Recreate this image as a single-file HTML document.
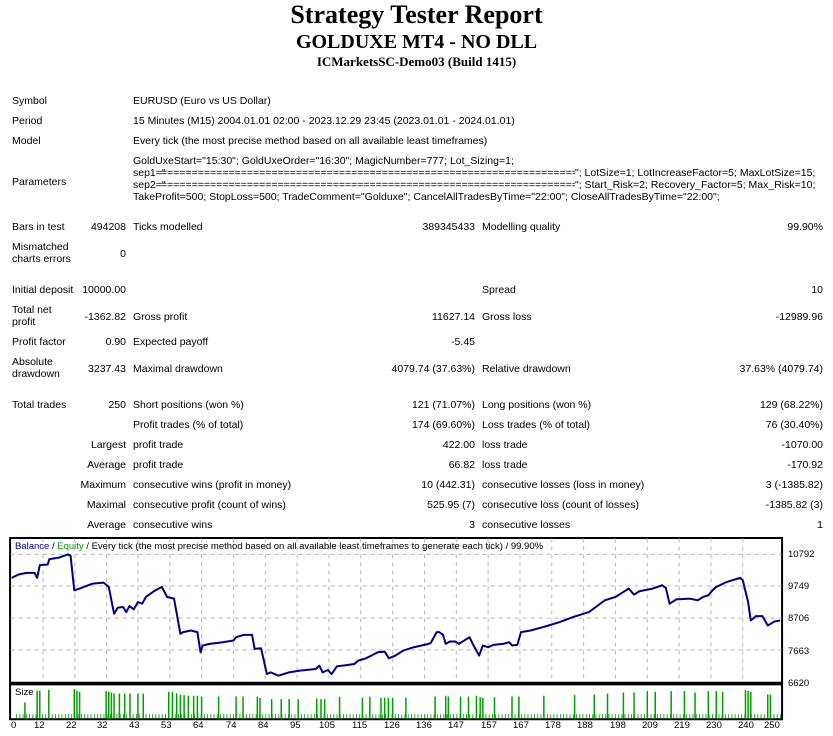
<!DOCTYPE html>
<html><head><meta charset="utf-8"><style>
body{margin:0;background:#fff;width:833px;height:736px;position:relative;overflow:hidden;font-family:"Liberation Sans",sans-serif;font-size:10.5px;color:#000}
.t{position:absolute;white-space:nowrap;line-height:12px}
.h{position:absolute;left:0;width:833px;text-align:center;font-family:"Liberation Serif",serif;font-weight:bold;white-space:nowrap}
.eq{position:absolute;overflow:hidden;white-space:nowrap;line-height:12px}
</style></head><body>
<div class="h" style="top:0px;font-size:26px">Strategy Tester Report</div>
<div class="h" style="top:31px;font-size:20px">GOLDUXE MT4 - NO DLL</div>
<div class="h" style="top:54px;font-size:13px">ICMarketsSC-Demo03 (Build 1415)</div>

<div class="t" style="left:12px;top:95px">Symbol</div>
<div class="t" style="left:133px;top:95px">EURUSD (Euro vs US Dollar)</div>
<div class="t" style="left:12px;top:115px">Period</div>
<div class="t" style="left:133px;top:115px">15 Minutes (M15) 2004.01.01 02:00 - 2023.12.29 23:45 (2023.01.01 - 2024.01.01)</div>
<div class="t" style="left:12px;top:135px">Model</div>
<div class="t" style="left:133px;top:135px">Every tick (the most precise method based on all available least timeframes)</div>
<div class="t" style="left:12px;top:176px">Parameters</div>
<div class="t" style="left:133px;top:155px">GoldUxeStart="15:30"; GoldUxeOrder="16:30"; MagicNumber=777; Lot_Sizing=1;</div>
<div class="t" style="left:133px;top:167px">sep1="</div>
<div class="eq" style="left:161px;top:167px;width:414px">================================================================================</div>
<div class="t" style="left:575px;top:167px">"; LotSize=1; LotIncreaseFactor=5; MaxLotSize=15;</div>
<div class="t" style="left:133px;top:179px">sep2="</div>
<div class="eq" style="left:161px;top:179px;width:414px">================================================================================</div>
<div class="t" style="left:575px;top:179px">"; Start_Risk=2; Recovery_Factor=5; Max_Risk=10;</div>
<div class="t" style="left:133px;top:191px">TakeProfit=500; StopLoss=500; TradeComment="Golduxe"; CancelAllTradesByTime="22:00"; CloseAllTradesByTime="22:00";</div>

<div class="t" style="left:12px;top:221px">Bars in test</div>
<div class="t" style="right:707px;top:221px">494208</div>
<div class="t" style="left:133px;top:221px">Ticks modelled</div>
<div class="t" style="right:358px;top:221px">389345433</div>
<div class="t" style="left:482px;top:221px">Modelling quality</div>
<div class="t" style="right:10px;top:221px">99.90%</div>

<div class="t" style="left:12px;top:241px">Mismatched<br>charts errors</div>
<div class="t" style="right:707px;top:248px">0</div>

<div class="t" style="left:12px;top:284px">Initial deposit</div>
<div class="t" style="right:707px;top:284px">10000.00</div>
<div class="t" style="left:482px;top:284px">Spread</div>
<div class="t" style="right:10px;top:284px">10</div>

<div class="t" style="left:12px;top:304px">Total net<br>profit</div>
<div class="t" style="right:707px;top:311px">-1362.82</div>
<div class="t" style="left:133px;top:311px">Gross profit</div>
<div class="t" style="right:358px;top:311px">11627.14</div>
<div class="t" style="left:482px;top:311px">Gross loss</div>
<div class="t" style="right:10px;top:311px">-12989.96</div>

<div class="t" style="left:12px;top:336px">Profit factor</div>
<div class="t" style="right:707px;top:336px">0.90</div>
<div class="t" style="left:133px;top:336px">Expected payoff</div>
<div class="t" style="right:358px;top:336px">-5.45</div>

<div class="t" style="left:12px;top:356px">Absolute<br>drawdown</div>
<div class="t" style="right:707px;top:363px">3237.43</div>
<div class="t" style="left:133px;top:363px">Maximal drawdown</div>
<div class="t" style="right:358px;top:363px">4079.74 (37.63%)</div>
<div class="t" style="left:482px;top:363px">Relative drawdown</div>
<div class="t" style="right:10px;top:363px">37.63% (4079.74)</div>

<div class="t" style="left:12px;top:399px">Total trades</div>
<div class="t" style="right:707px;top:399px">250</div>
<div class="t" style="left:133px;top:399px">Short positions (won %)</div>
<div class="t" style="right:358px;top:399px">121 (71.07%)</div>
<div class="t" style="left:482px;top:399px">Long positions (won %)</div>
<div class="t" style="right:10px;top:399px">129 (68.22%)</div>

<div class="t" style="left:133px;top:419px">Profit trades (% of total)</div>
<div class="t" style="right:358px;top:419px">174 (69.60%)</div>
<div class="t" style="left:482px;top:419px">Loss trades (% of total)</div>
<div class="t" style="right:10px;top:419px">76 (30.40%)</div>

<div class="t" style="right:707px;top:439px">Largest</div>
<div class="t" style="left:133px;top:439px">profit trade</div>
<div class="t" style="right:358px;top:439px">422.00</div>
<div class="t" style="left:482px;top:439px">loss trade</div>
<div class="t" style="right:10px;top:439px">-1070.00</div>

<div class="t" style="right:707px;top:459px">Average</div>
<div class="t" style="left:133px;top:459px">profit trade</div>
<div class="t" style="right:358px;top:459px">66.82</div>
<div class="t" style="left:482px;top:459px">loss trade</div>
<div class="t" style="right:10px;top:459px">-170.92</div>

<div class="t" style="right:707px;top:479px">Maximum</div>
<div class="t" style="left:133px;top:479px">consecutive wins (profit in money)</div>
<div class="t" style="right:358px;top:479px">10 (442.31)</div>
<div class="t" style="left:482px;top:479px">consecutive losses (loss in money)</div>
<div class="t" style="right:10px;top:479px">3 (-1385.82)</div>

<div class="t" style="right:707px;top:499px">Maximal</div>
<div class="t" style="left:133px;top:499px">consecutive profit (count of wins)</div>
<div class="t" style="right:358px;top:499px">525.95 (7)</div>
<div class="t" style="left:482px;top:499px">consecutive loss (count of losses)</div>
<div class="t" style="right:10px;top:499px">-1385.82 (3)</div>

<div class="t" style="right:707px;top:519px">Average</div>
<div class="t" style="left:133px;top:519px">consecutive wins</div>
<div class="t" style="right:358px;top:519px">3</div>
<div class="t" style="left:482px;top:519px">consecutive losses</div>
<div class="t" style="right:10px;top:519px">1</div>

<svg style="position:absolute;left:0;top:535px" width="833" height="201" viewBox="0 0 1570 600" preserveAspectRatio="none">
<defs><pattern id="sb" x="0" y="0" width="6.1" height="600" patternUnits="userSpaceOnUse"><rect x="0" y="0" width="1.6" height="600" fill="#00a000"/></pattern></defs>
<rect x="19" y="9" width="1455" height="432" fill="#fff" stroke="#000" stroke-width="2" vector-effect="non-scaling-stroke"/>
<g stroke="#b8b8b8" stroke-dasharray="4 4" stroke-width="1">
<line x1="20" x2="1473" y1="58" y2="58" vector-effect="non-scaling-stroke"/>
<line x1="20" x2="1473" y1="152" y2="152" vector-effect="non-scaling-stroke"/>
<line x1="20" x2="1473" y1="248" y2="248" vector-effect="non-scaling-stroke"/>
<line x1="20" x2="1473" y1="343" y2="343" vector-effect="non-scaling-stroke"/>
<line y1="10" y2="440" x1="81" x2="81" vector-effect="non-scaling-stroke"/>
<line y1="10" y2="440" x1="141" x2="141" vector-effect="non-scaling-stroke"/>
<line y1="10" y2="440" x1="201" x2="201" vector-effect="non-scaling-stroke"/>
<line y1="10" y2="440" x1="260" x2="260" vector-effect="non-scaling-stroke"/>
<line y1="10" y2="440" x1="320" x2="320" vector-effect="non-scaling-stroke"/>
<line y1="10" y2="440" x1="380" x2="380" vector-effect="non-scaling-stroke"/>
<line y1="10" y2="440" x1="440" x2="440" vector-effect="non-scaling-stroke"/>
<line y1="10" y2="440" x1="500" x2="500" vector-effect="non-scaling-stroke"/>
<line y1="10" y2="440" x1="560" x2="560" vector-effect="non-scaling-stroke"/>
<line y1="10" y2="440" x1="620" x2="620" vector-effect="non-scaling-stroke"/>
<line y1="10" y2="440" x1="680" x2="680" vector-effect="non-scaling-stroke"/>
<line y1="10" y2="440" x1="740" x2="740" vector-effect="non-scaling-stroke"/>
<line y1="10" y2="440" x1="800" x2="800" vector-effect="non-scaling-stroke"/>
<line y1="10" y2="440" x1="860" x2="860" vector-effect="non-scaling-stroke"/>
<line y1="10" y2="440" x1="920" x2="920" vector-effect="non-scaling-stroke"/>
<line y1="10" y2="440" x1="980" x2="980" vector-effect="non-scaling-stroke"/>
<line y1="10" y2="440" x1="1040" x2="1040" vector-effect="non-scaling-stroke"/>
<line y1="10" y2="440" x1="1100" x2="1100" vector-effect="non-scaling-stroke"/>
<line y1="10" y2="440" x1="1160" x2="1160" vector-effect="non-scaling-stroke"/>
<line y1="10" y2="440" x1="1220" x2="1220" vector-effect="non-scaling-stroke"/>
<line y1="10" y2="440" x1="1280" x2="1280" vector-effect="non-scaling-stroke"/>
<line y1="10" y2="440" x1="1340" x2="1340" vector-effect="non-scaling-stroke"/>
<line y1="10" y2="440" x1="1400" x2="1400" vector-effect="non-scaling-stroke"/>
</g>
<polyline fill="none" stroke="#000080" stroke-width="2" vector-effect="non-scaling-stroke" stroke-linejoin="round" points="22,128 35,118 50,113 65,113 70,128 75,90 90,88 93,72 110,68 128,58 133,62 140,165 150,160 175,145 195,142 205,155 215,235 222,217 232,215 238,230 244,212 252,222 260,200 268,205 275,185 290,168 305,155 315,185 328,190 340,295 345,290 360,285 372,290 378,350 382,330 395,325 420,320 440,315 445,305 460,298 475,298 480,340 492,338 503,415 510,410 525,420 545,410 565,405 595,400 602,390 608,410 618,403 625,415 635,392 655,388 668,385 675,375 690,368 712,350 725,348 733,368 745,360 760,345 780,335 808,325 812,322 823,290 828,290 835,298 840,325 848,318 858,318 865,325 885,305 892,328 903,360 910,330 920,335 930,328 948,325 960,320 965,330 975,328 982,290 1000,285 1030,272 1055,260 1080,245 1110,230 1140,195 1160,185 1175,170 1185,160 1195,178 1205,168 1230,160 1248,150 1255,158 1262,205 1275,192 1300,190 1315,195 1325,185 1335,180 1343,165 1350,155 1370,140 1395,128 1400,135 1410,200 1415,255 1425,242 1437,242 1447,270 1460,258 1470,255"/>
<rect x="19" y="446" width="1455" height="104" fill="#fff" stroke="#000" stroke-width="2" vector-effect="non-scaling-stroke"/>
<rect x="28" y="535" width="1444" height="13" fill="url(#sb)"/>
<g stroke="#00a000" stroke-width="1.5">
<path vector-effect="non-scaling-stroke" d="M47 548V500M70 548V465M75 548V465M92 548V462M140 548V460M145 548V465M150 548V468M200 548V466M205 548V468M210 548V470M215 548V473M225 548V473M235 548V473M245 548V473M260 548V473M270 548V473M318 548V468M325 548V468M333 548V473M340 548V476M347 548V478M355 548V480M365 548V480M372 548V480M380 548V482M412 548V482M445 548V482M458 548V482M485 548V482M490 548V486M512 548V490M530 548V490M545 548V490M562 548V490M597 548V488M605 548V490M612 548V490M640 548V483M683 548V486M697 548V483M718 548V486M725 548V486M732 548V486M740 548V486M765 548V486M820 548V482M840 548V480M845 548V482M868 548V482M883 548V482M898 548V480M905 548V484M910 548V486M932 548V484M965 548V482M978 548V482M1025 548V480M1083 548V478M1120 548V476M1145 548V473M1175 548V470M1195 548V470M1220 548V466M1235 548V468M1265 548V466M1290 548V466M1310 548V470M1335 548V466M1350 548V466M1362 548V468M1405 548V463M1410 548V465M1415 548V468M1447 548V476M1452 548V476"/>
</g>
</svg>
<div class="t" style="left:15px;top:541px;font-size:9.5px"><span style="color:#000080">Balance</span> / <span style="color:#00a000">Equity</span> / Every tick (the most precise method based on all available least timeframes to generate each tick) / 99.90%</div>
<div class="t" style="left:788px;top:549px;font-size:9.5px">10792</div>
<div class="t" style="left:788px;top:581px;font-size:9.5px">9749</div>
<div class="t" style="left:788px;top:613px;font-size:9.5px">8706</div>
<div class="t" style="left:788px;top:646px;font-size:9.5px">7663</div>
<div class="t" style="left:788px;top:678px;font-size:9.5px">6620</div>
<div class="t" style="left:15px;top:687px;font-size:9.5px">Size</div>
<div style="position:absolute;top:720px;left:0;font-size:9.5px;line-height:12px">
<span class="t" style="left:11px">0</span><span class="t" style="left:34px">12</span><span class="t" style="left:66px">22</span><span class="t" style="left:97px">32</span><span class="t" style="left:129px">43</span><span class="t" style="left:161px">53</span><span class="t" style="left:193px">64</span><span class="t" style="left:226px">74</span><span class="t" style="left:258px">84</span><span class="t" style="left:290px">95</span><span class="t" style="left:319px">105</span><span class="t" style="left:352px">115</span><span class="t" style="left:384px">126</span><span class="t" style="left:416px">136</span><span class="t" style="left:448px">147</span><span class="t" style="left:481px">157</span><span class="t" style="left:513px">167</span><span class="t" style="left:545px">178</span><span class="t" style="left:577px">188</span><span class="t" style="left:610px">198</span><span class="t" style="left:642px">209</span><span class="t" style="left:674px">219</span><span class="t" style="left:706px">230</span><span class="t" style="left:738px">240</span><span class="t" style="left:764px">250</span>
</div>
</body></html>
